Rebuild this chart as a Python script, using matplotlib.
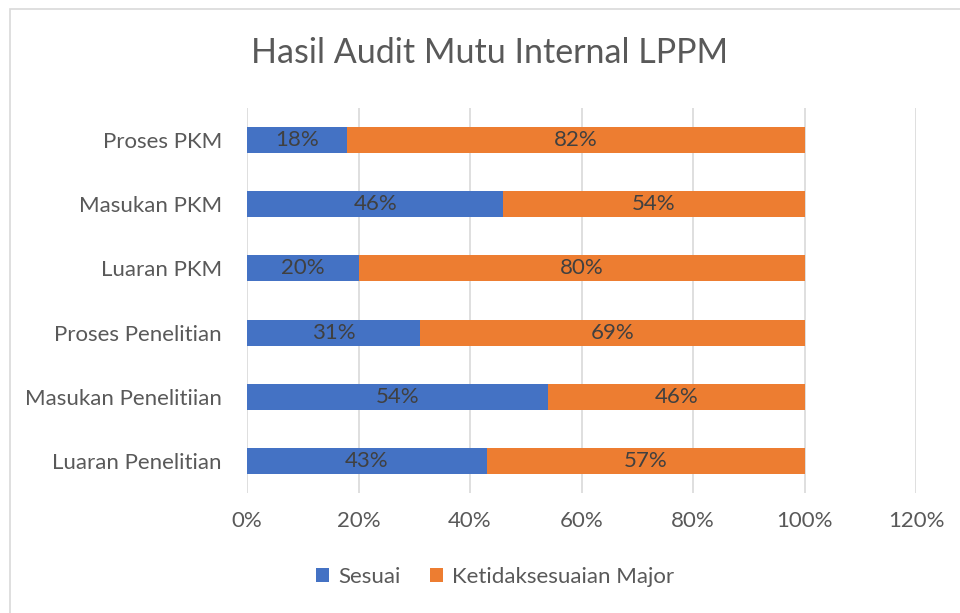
import matplotlib
matplotlib.use("Agg")
import matplotlib.pyplot as plt
from matplotlib.patches import Rectangle, Patch
import numpy as np

categories = ["Luaran Penelitian", "Masukan Penelitiian", "Proses Penelitian",
              "Luaran PKM", "Masukan PKM", "Proses PKM"]
sesuai = [43, 54, 31, 20, 46, 18]
ketidaksesuaian = [57, 46, 69, 80, 54, 82]
series_names = ["Sesuai", "Ketidaksesuaian Major"]
xticks = [0, 20, 40, 60, 80, 100, 120]
title = "Hasil Audit Mutu Internal LPPM"

plt.rcParams['font.family'] = ['Lato', 'DejaVu Sans']
TXT = '#595959'
LBL = '#404040'
BLUE = '#4472C4'
ORANGE = '#ED7D31'
FS = 16

fig = plt.figure(figsize=(9.6, 6.13), dpi=100)
ax = fig.add_axes([247/960, 1-493/613, 669/960, (493-108)/613])

y = np.arange(len(categories))
h = 0.405
ax.barh(y, sesuai, height=h, color=BLUE, zorder=3)
ax.barh(y, ketidaksesuaian, left=sesuai, height=h, color=ORANGE, zorder=3)

for i in range(len(categories)):
    ax.text(sesuai[i]/2, y[i], f"{sesuai[i]}%", ha='center', va='center',
            fontsize=FS, color=LBL, zorder=4)
    ax.text(sesuai[i] + ketidaksesuaian[i]/2, y[i], f"{ketidaksesuaian[i]}%",
            ha='center', va='center', fontsize=FS, color=LBL, zorder=4)

ax.set_xlim(0, 120)
ax.set_ylim(-0.5, len(categories)-0.5)
ax.set_xticks(xticks)
ax.set_xticklabels([f"{t}%" for t in xticks])
ax.set_yticks(y)
ax.set_yticklabels(categories)
ax.tick_params(axis='x', length=0, pad=13, labelsize=FS, labelcolor=TXT)
ax.tick_params(axis='y', length=0, pad=18, labelsize=FS, labelcolor=TXT)
ax.grid(axis='x', color='#d9d9d9', linewidth=1.2, zorder=0)
ax.set_axisbelow(True)
for s in ax.spines.values():
    s.set_visible(False)

fig.text(490/960, 1-53/613, title, ha='center', va='center', fontsize=24.5, color=TXT)

handles = [Patch(facecolor=BLUE, label=series_names[0]),
           Patch(facecolor=ORANGE, label=series_names[1])]
fig.legend(handles=handles, loc='center', bbox_to_anchor=(495/960, 1-577/613),
           ncol=2, frameon=False, fontsize=FS, labelcolor=TXT,
           handlelength=0.6, handleheight=0.6, handletextpad=0.4, columnspacing=1.3)

fig.patches.append(Rectangle((10/960, -0.02), 1.0, 1.02 - 9/613, transform=fig.transFigure,
                             fill=False, edgecolor='#d9d9d9', linewidth=1.2))

fig.savefig("out.png", dpi=100)
